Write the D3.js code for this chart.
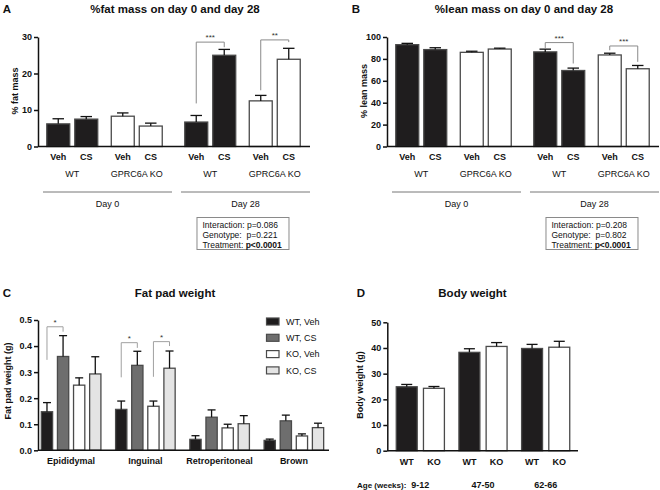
<!DOCTYPE html>
<html><head><meta charset="utf-8">
<script src="https://cdn.jsdelivr.net/npm/d3@7"></script>
<style>
body{margin:0;background:#fff}
svg{display:block;font-family:"Liberation Sans",Arial,sans-serif}
</style>
</head><body>
<svg id="c" width="660" height="490"></svg>
<script>
// ---------- DATA ----------
const abDays = ["Day 0", "Day 28"];
const abGenotypes = ["WT", "GPRC6A KO"];
const abTreatments = ["Veh", "CS"];
// order: Day0 WT Veh, Day0 WT CS, Day0 KO Veh, Day0 KO CS, Day28 WT Veh, Day28 WT CS, Day28 KO Veh, Day28 KO CS
const fatMean = [6.2, 7.5, 8.3, 5.6, 6.7, 25.0, 12.5, 23.9];
const fatSem  = [1.4, 0.7, 0.9, 0.8, 1.8, 1.6, 1.5, 3.0];
const fatTicks = [0, 10, 20, 30];
const leanMean = [93.0, 88.5, 86.0, 89.0, 86.4, 69.4, 83.6, 71.0];
const leanSem  = [1.2, 1.7, 1.0, 0.8, 2.5, 2.2, 1.6, 3.0];
const leanTicks = [0, 20, 40, 60, 80, 100];
const statLabels = ["Interaction:", "Genotype: ", "Treatment:"];
const fatP = ["p=0.086", "p=0.221", "p<0.0001"];
const leanP = ["p=0.208", "p=0.802", "p<0.0001"];
const fatSig = [
  {a: 4, b: 5, y: 28.6, ya: 11.8, yb: 27.2, label: "***"},
  {a: 6, b: 7, y: 29.2, ya: 15.4, yb: 28.6, label: "**"}
];
const leanSig = [
  {a: 4, b: 5, y: 94.9, ya: 90.0, yb: 75.8, label: "***"},
  {a: 6, b: 7, y: 91.8, ya: 87.9, yb: 77.3, label: "***"}
];

const padCategories = ["Epididymal", "Inguinal", "Retroperitoneal", "Brown"];
const padGroups = ["WT, Veh", "WT, CS", "KO, Veh", "KO, CS"];
const padMean = [
  [0.148, 0.360, 0.250, 0.293],
  [0.157, 0.326, 0.169, 0.315],
  [0.042, 0.127, 0.086, 0.102],
  [0.038, 0.113, 0.055, 0.087]
];
const padSem = [
  [0.035, 0.080, 0.028, 0.066],
  [0.032, 0.054, 0.020, 0.066],
  [0.014, 0.028, 0.014, 0.031],
  [0.005, 0.022, 0.008, 0.017]
];
const padTicks = [0, 0.1, 0.2, 0.3, 0.4, 0.5];
const padSig = [
  {cat: 0, a: 0, b: 1, y: 0.474, ya: 0.347, yb: 0.455, label: "*"},
  {cat: 1, a: 0, b: 1, y: 0.413, ya: 0.280, yb: 0.393, label: "*"},
  {cat: 1, a: 2, b: 3, y: 0.417, ya: 0.282, yb: 0.400, label: "*"}
];

const ageGroups = ["9-12", "47-50", "62-66"];
const bwGenotypes = ["WT", "KO"];
const bwMean = [[24.9, 24.3], [38.3, 40.6], [39.8, 40.3]];
const bwSem  = [[0.9, 0.7], [1.4, 1.5], [1.6, 2.3]];
const bwTicks = [0, 10, 20, 30, 40, 50];

// ---------- STYLE ----------
const BLACK = "#1f1d1e";
const EDGE = "#4a4a4a";
const svg = d3.select("#c");

function styleAxis(g) {
  g.selectAll("path,line").attr("stroke", "#111").attr("stroke-width", 1.5);
  g.selectAll("text").attr("font-size", 9).attr("font-weight", "bold").attr("fill", "#111")
   .attr("font-family", '"Liberation Sans",Arial,sans-serif');
}
function text(g, x, y, s, opt) {
  opt = opt || {};
  return g.append("text").attr("x", x).attr("y", y).text(s)
    .attr("font-size", opt.size || 9)
    .attr("font-weight", opt.bold ? "bold" : "normal")
    .attr("text-anchor", opt.anchor || "middle")
    .attr("fill", opt.fill || "#111");
}
function errBar(g, cx, yTop, yCap, cap) {
  g.append("line").attr("x1", cx).attr("x2", cx).attr("y1", yTop).attr("y2", yCap)
    .attr("stroke", "#111").attr("stroke-width", 1.3);
  g.append("line").attr("x1", cx - cap / 2).attr("x2", cx + cap / 2).attr("y1", yCap).attr("y2", yCap)
    .attr("stroke", "#111").attr("stroke-width", 1.3);
}
function bracket(g, xa, xb, y, ya, yb, label, col) {
  g.append("path").attr("d", `M${xa},${ya}V${y}H${xb}V${yb}`)
    .attr("fill", "none").attr("stroke", col).attr("stroke-width", 1);
  text(g, (xa + xb) / 2, y - 2, label, {size: 8, fill: "#333"});
}

// ---------- PANELS A & B ----------
function drawAB(ox, letter, title, yLabel, mean, sem, ticks, sig, pvals) {
  const g = svg.append("g");
  const axisX = 38 + ox, axisEnd = 310 + ox;
  const y = d3.scaleLinear().domain([0, ticks[ticks.length - 1]]).range([146.5, 37]);
  const day = d3.scaleBand().domain(abDays).range([43 + ox, 310 + ox]).paddingInner(0.065);
  const geno = d3.scaleBand().domain(abGenotypes).range([-3, day.bandwidth() - 3]);
  const treat = d3.scaleBand().domain(abTreatments).range([-28, 28]).paddingInner(0.18).paddingOuter(0.09);
  const bars = [];
  abDays.forEach((d, di) => abGenotypes.forEach((gn, gi) => abTreatments.forEach((t, ti) => {
    const i = di * 4 + gi * 2 + ti;
    const gc = day(d) + geno(gn) + geno.bandwidth() / 2;
    bars.push({i, d, gn, t, gi, gc, x: gc + treat(t), cx: gc + treat(t) + treat.bandwidth() / 2,
      v: mean[i], e: sem[i]});
  })));

  text(g, 7 + ox, 13, letter, {size: 11.5, bold: true});
  text(g, 175 + ox, 13, title, {size: 11.5, bold: true});
  g.append("text").attr("transform", `translate(${18 + ox},91) rotate(-90)`).text(yLabel)
    .attr("font-size", 9).attr("font-weight", "bold").attr("text-anchor", "middle").attr("fill", "#111");

  g.selectAll("rect.bar").data(bars).join("rect").attr("class", "bar")
    .attr("x", b => b.x).attr("width", treat.bandwidth())
    .attr("y", b => y(b.v)).attr("height", b => y(0) - y(b.v))
    .attr("fill", b => b.gi === 0 ? BLACK : "#fff")
    .attr("stroke", EDGE).attr("stroke-width", 1.3);
  bars.forEach(b => errBar(g, b.cx, y(b.v), y(b.v + b.e), treat.bandwidth() * 0.5));

  const ax = g.append("g").attr("transform", `translate(${axisX},0)`)
    .call(d3.axisLeft(y).tickValues(ticks).tickSize(4).tickSizeOuter(0).tickPadding(2));
  styleAxis(ax);
  g.append("line").attr("x1", axisX).attr("x2", axisEnd).attr("y1", y(0)).attr("y2", y(0))
    .attr("stroke", "#111").attr("stroke-width", 1.5);

  bars.forEach(b => text(g, b.cx, 159.5, b.t, {size: 9, bold: true}));
  abDays.forEach(d => abGenotypes.forEach(gn => {
    text(g, day(d) + geno(gn) + geno.bandwidth() / 2, 176.5, gn, {size: 9});
  }));
  abDays.forEach(d => {
    g.append("line").attr("x1", day(d)).attr("x2", day(d) + day.bandwidth())
      .attr("y1", 192).attr("y2", 192).attr("stroke", "#777").attr("stroke-width", 1);
    text(g, day(d) + day.bandwidth() / 2, 206.5, d, {size: 9});
  });

  sig.forEach(s => bracket(g, bars[s.a].cx, bars[s.b].cx, y(s.y), y(s.ya), y(s.yb), s.label, "#8a8a8a"));

  const bx = day(abDays[1]) + 16;
  g.append("rect").attr("x", bx).attr("y", 217.5).attr("width", 92).attr("height", 32)
    .attr("fill", "#fff").attr("stroke", "#8a8a8a").attr("stroke-width", 1);
  statLabels.forEach((l, i) => {
    const t = g.append("text").attr("x", bx + 5.5).attr("y", 228 + i * 10)
      .attr("font-size", 8.5).attr("fill", "#111").style("white-space", "pre");
    t.append("tspan").text(l + " ");
    t.append("tspan").text(pvals[i]).attr("font-weight", i === 2 ? "bold" : "normal");
  });
}
drawAB(0, "A", "%fat mass on day 0 and day 28", "% fat mass", fatMean, fatSem, fatTicks, fatSig, fatP);
drawAB(349, "B", "%lean mass on day 0 and day 28", "% lean mass", leanMean, leanSem, leanTicks, leanSig, leanP);

// ---------- PANEL C ----------
(function () {
  const g = svg.append("g");
  const y = d3.scaleLinear().domain([0, 0.5]).range([450.3, 320]);
  const cat = d3.scaleBand().domain(padCategories).range([34, 331]);
  const grp = d3.scaleBand().domain(padGroups).range([-32.2, 32.2]).paddingInner(0.3).paddingOuter(0.15);
  const fills = ["#1f1d1e", "#6e6e6e", "#ffffff", "#e4e4e4"];
  const bars = [];
  padCategories.forEach((c, ci) => padGroups.forEach((p, pi) => {
    const gc = cat(c) + cat.bandwidth() / 2;
    bars.push({ci, pi, x: gc + grp(p), cx: gc + grp(p) + grp.bandwidth() / 2,
      v: padMean[ci][pi], e: padSem[ci][pi]});
  }));

  text(g, 7, 297, "C", {size: 11.5, bold: true});
  text(g, 175, 297, "Fat pad weight", {size: 11.5, bold: true});
  g.append("text").attr("transform", "translate(11,381) rotate(-90)").text("Fat pad weight (g)")
    .attr("font-size", 9).attr("font-weight", "bold").attr("text-anchor", "middle").attr("fill", "#111");

  g.selectAll("rect.bar").data(bars).join("rect").attr("class", "bar")
    .attr("x", b => b.x).attr("width", grp.bandwidth())
    .attr("y", b => y(b.v)).attr("height", b => y(0) - y(b.v))
    .attr("fill", b => fills[b.pi]).attr("stroke", EDGE).attr("stroke-width", 1.3);
  bars.forEach(b => errBar(g, b.cx, y(b.v), y(b.v + b.e), 8));

  const ax = g.append("g").attr("transform", "translate(38,0)")
    .call(d3.axisLeft(y).tickValues(padTicks).tickFormat(d3.format(".1f")).tickSize(4).tickSizeOuter(0).tickPadding(2));
  styleAxis(ax);
  g.append("line").attr("x1", 38).attr("x2", 329).attr("y1", y(0)).attr("y2", y(0))
    .attr("stroke", "#111").attr("stroke-width", 1.5);
  padCategories.forEach(c => text(g, cat(c) + cat.bandwidth() / 2, 464, c, {size: 9, bold: true}));

  padSig.forEach(s => {
    const a = bars[s.cat * 4 + s.a], b = bars[s.cat * 4 + s.b];
    bracket(g, a.cx, b.cx, y(s.y), y(s.ya), y(s.yb), s.label, "#a0a0a0");
  });

  padGroups.forEach((p, i) => {
    const ly = 321.5 + i * 16.3;
    g.append("rect").attr("x", 266.5).attr("y", ly - 3.5).attr("width", 12.5).attr("height", 7)
      .attr("fill", fills[i]).attr("stroke", EDGE).attr("stroke-width", 1.2);
    text(g, 286, ly + 3.3, p, {size: 9, anchor: "start"});
  });
})();

// ---------- PANEL D ----------
(function () {
  const g = svg.append("g");
  const y = d3.scaleLinear().domain([0, 50]).range([450.7, 322.3]);
  const age = d3.scaleBand().domain(ageGroups).range([389, 577]);
  const gen = d3.scaleBand().domain(bwGenotypes).range([-27.2, 27.2]).paddingInner(0.23).paddingOuter(0.115);
  const bars = [];
  ageGroups.forEach((a, ai) => bwGenotypes.forEach((gn, gi) => {
    const gc = age(a) + age.bandwidth() / 2;
    bars.push({gi, gn, x: gc + gen(gn), cx: gc + gen(gn) + gen.bandwidth() / 2, v: bwMean[ai][gi], e: bwSem[ai][gi]});
  }));

  text(g, 361, 297, "D", {size: 11.5, bold: true});
  text(g, 472.5, 297, "Body weight", {size: 11.5, bold: true});
  g.append("text").attr("transform", "translate(363,385) rotate(-90)").text("Body weight (g)")
    .attr("font-size", 9).attr("font-weight", "bold").attr("text-anchor", "middle").attr("fill", "#111");

  g.selectAll("rect.bar").data(bars).join("rect").attr("class", "bar")
    .attr("x", b => b.x).attr("width", gen.bandwidth())
    .attr("y", b => y(b.v)).attr("height", b => y(0) - y(b.v))
    .attr("fill", b => b.gi === 0 ? BLACK : "#fff").attr("stroke", EDGE).attr("stroke-width", 1.3);
  bars.forEach(b => errBar(g, b.cx, y(b.v), y(b.v + b.e), 11));

  const ax = g.append("g").attr("transform", "translate(387.3,0)")
    .call(d3.axisLeft(y).tickValues(bwTicks).tickSize(4).tickSizeOuter(0).tickPadding(2));
  styleAxis(ax);
  g.append("line").attr("x1", 387.3).attr("x2", 578).attr("y1", y(0)).attr("y2", y(0))
    .attr("stroke", "#111").attr("stroke-width", 1.5);
  bars.forEach(b => text(g, b.cx, 464.5, b.gn, {size: 9, bold: true}));
  text(g, 357, 488, "Age (weeks):", {size: 8, bold: true, anchor: "start"});
  ageGroups.forEach(a => text(g, age(a) + age.bandwidth() / 2, 488, a, {size: 9, bold: true}));
})();
</script>
</body></html>
